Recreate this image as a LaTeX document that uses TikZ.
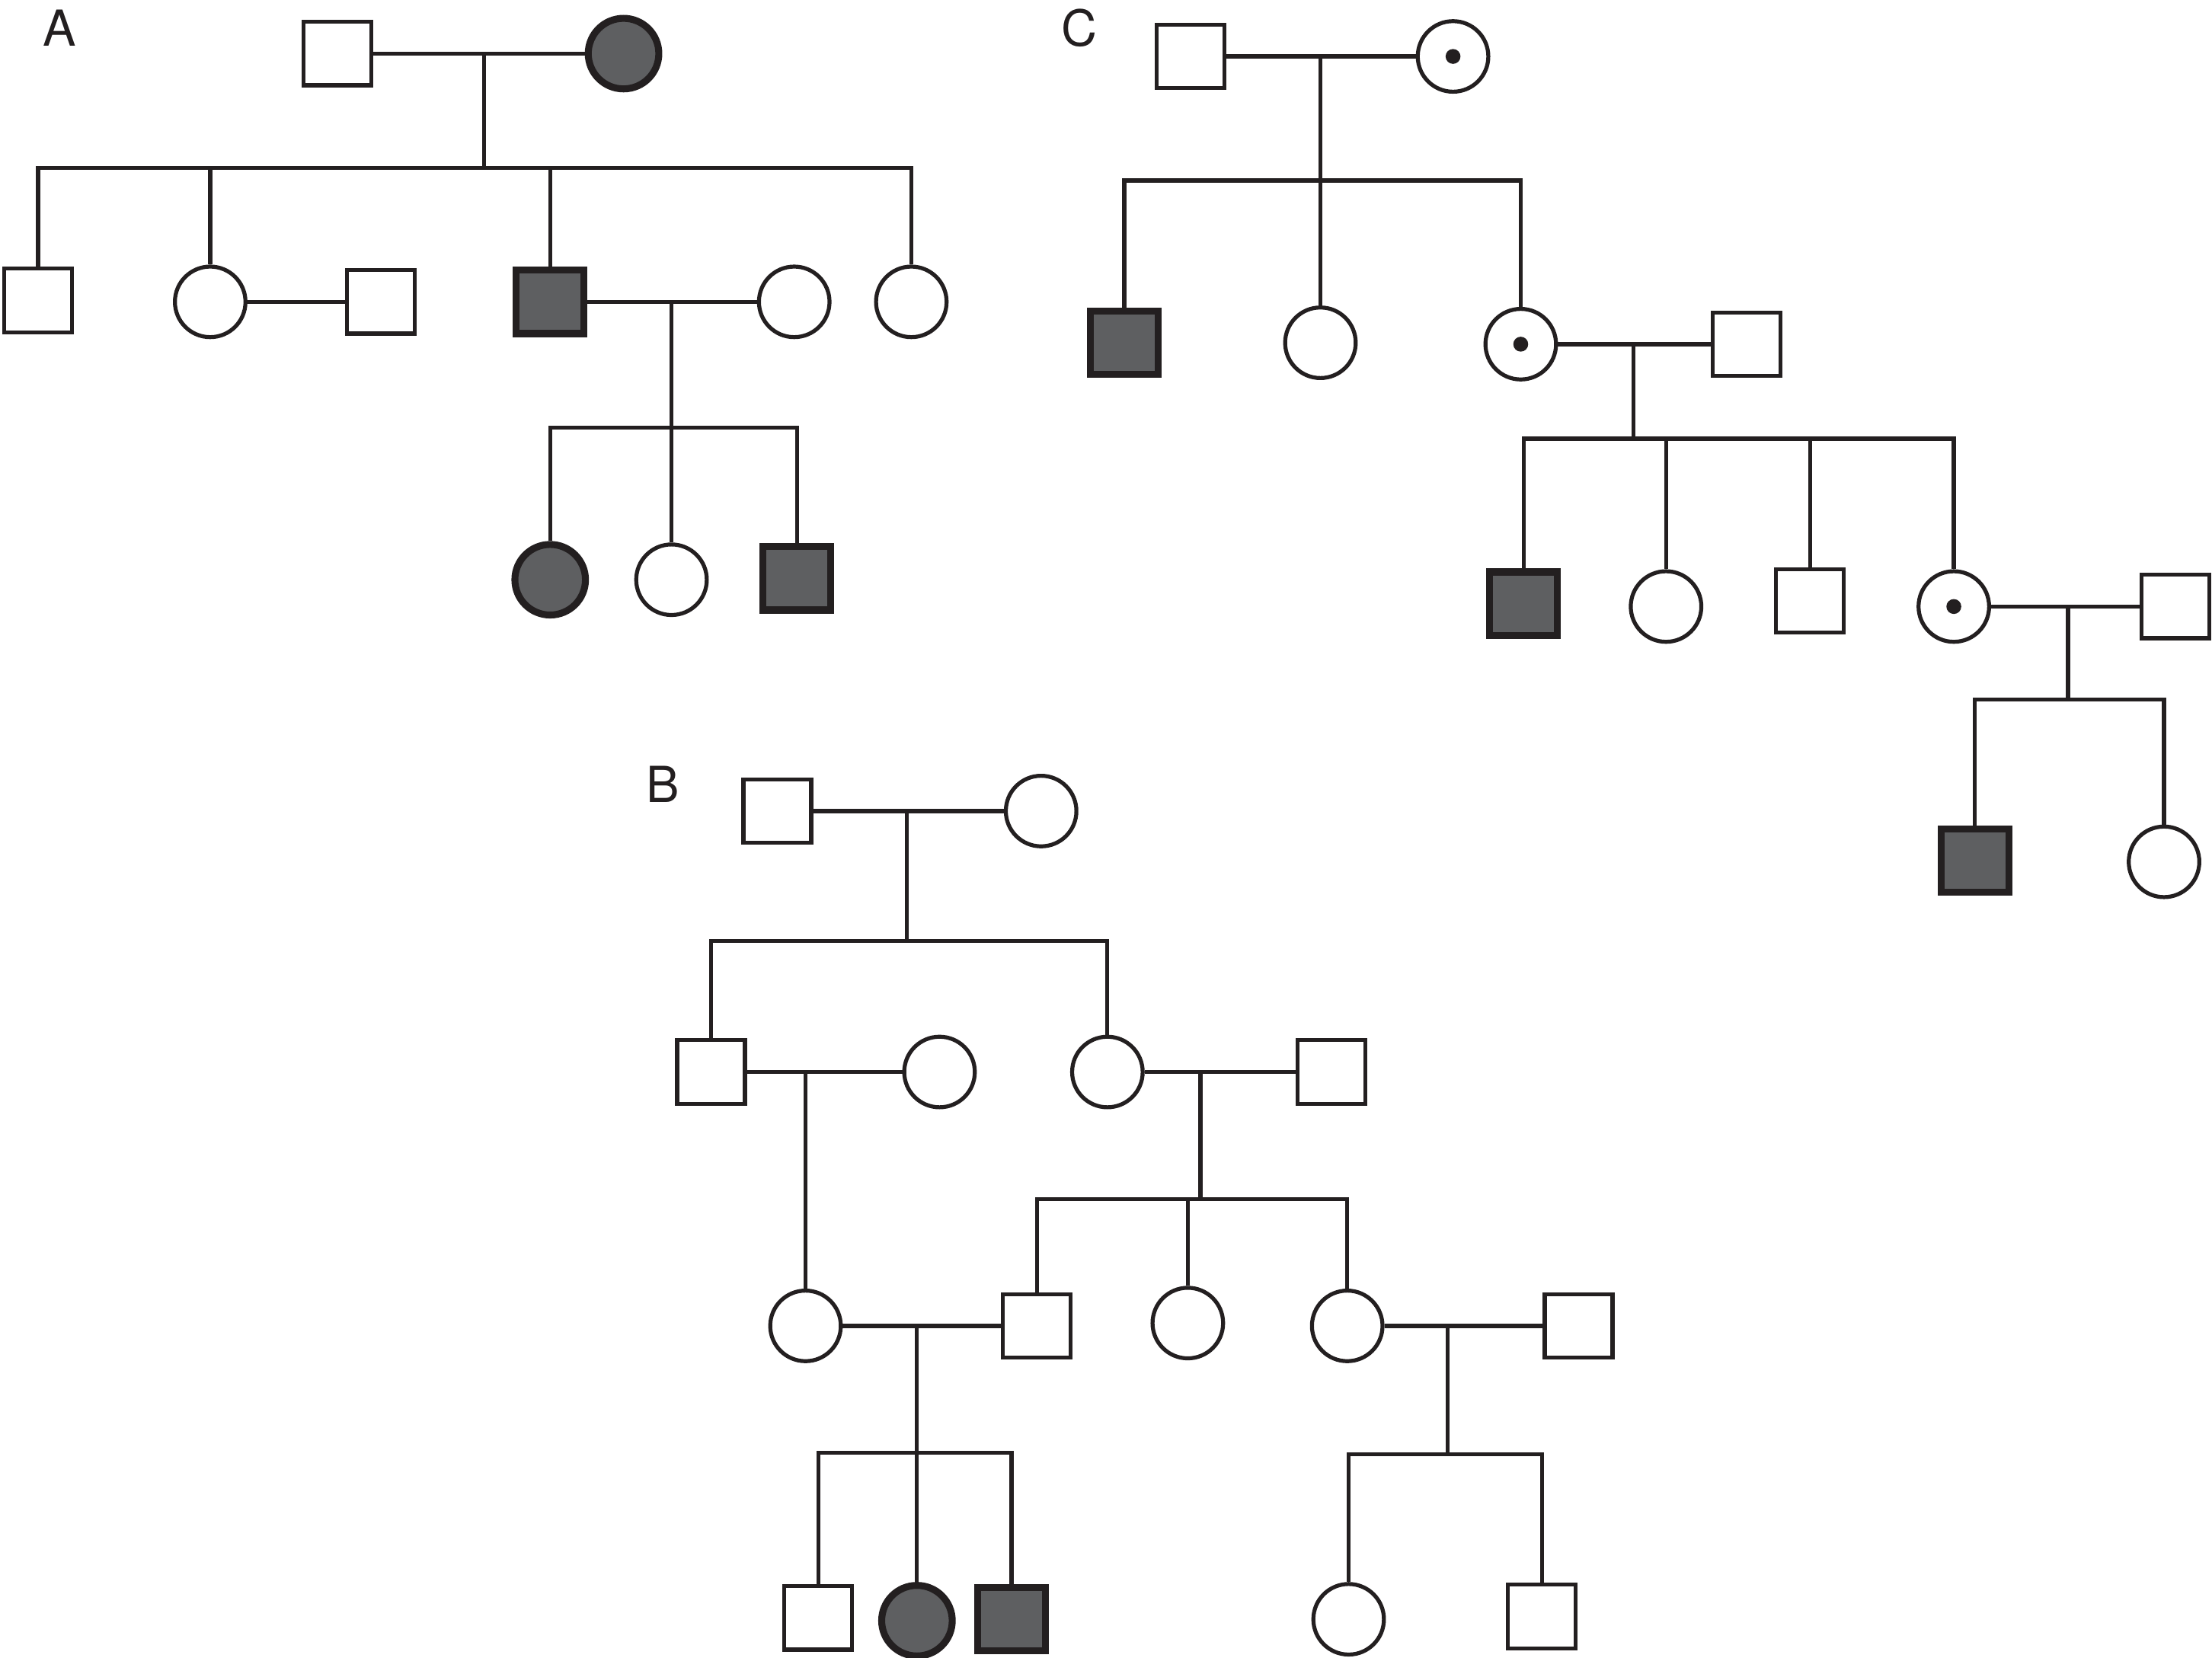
\documentclass[tikz,border=0pt]{standalone}
\usepackage{fontspec}
\setmainfont{TeX Gyre Heros}
\definecolor{ink}{HTML}{231F20}
\definecolor{shade}{HTML}{5E5F61}
\begin{document}
\begin{tikzpicture}[x=0.01cm, y=-0.01cm,
      male/.style={rectangle, draw=ink, line width=0.8pt, fill=white,
                   minimum width=0.48cm, minimum height=0.45cm, inner sep=0pt},
      female/.style={circle, draw=ink, line width=0.8pt, fill=white,
                     minimum size=0.5cm, inner sep=0pt},
      affected/.style={fill=shade, line width=1.4pt},
      carrier/.style={path picture={\fill[ink] (path picture bounding box.center) circle (1.5pt);}},
      line/.style={draw=ink, line width=0.8pt},
      panel/.style={font=\fontsize{10}{12}\selectfont, text=ink}
    ]
    \useasboundingbox (0,0) rectangle (1568,1175);

    % pedigree A
    \node[panel] (labA) at (42,20) {A};
    \node[male]             (A1)  at (239,38)  {};
    \node[female, affected] (A2)  at (442,38)  {};
    \coordinate (mA1) at (343,38);
    \coordinate (dA1) at (343,119);
    \node[male]             (A3)  at (27,213)  {};
    \node[female]           (A4)  at (149,214) {};
    \node[male]             (A5)  at (270,214) {};
    \node[male, affected]   (A6)  at (390,214) {};
    \node[female]           (A7)  at (563,214) {};
    \node[female]           (A8)  at (646,214) {};
    \coordinate (mA2) at (476,214);
    \coordinate (dA2) at (476,303);
    \node[female, affected] (A9)  at (390,411) {};
    \node[female]           (A10) at (476,411) {};
    \node[male, affected]   (A11) at (565,410) {};
    \draw[line] (A1) -- (A2);
    \draw[line] (mA1) -- (dA1);
    \draw[line] (A3.north) |- (dA1);
    \draw[line] (A4.north) |- (dA1);
    \draw[line] (A6.north) |- (dA1);
    \draw[line] (A8.north) |- (dA1);
    \draw[line] (A4) -- (A5);
    \draw[line] (A6) -- (A7);
    \draw[line] (mA2) -- (dA2);
    \draw[line] (A9.north) |- (dA2);
    \draw[line] (A10.north) |- (dA2);
    \draw[line] (A11.north) |- (dA2);

    % pedigree C
    \node[panel] (labC) at (765,20) {C};
    \node[male]              (C1)  at (844,40)   {};
    \node[female, carrier]   (C2)  at (1030,40)  {};
    \coordinate (mC1) at (936,40);
    \coordinate (dC1) at (936,128);
    \node[male, affected]    (C3)  at (797,243)  {};
    \node[female]            (C4)  at (936,243)  {};
    \node[female, carrier]   (C5)  at (1078,244) {};
    \node[male]              (C6)  at (1238,244) {};
    \coordinate (mC2) at (1158,244);
    \coordinate (dC2) at (1158,311);
    \node[male, affected]    (C7)  at (1080,428) {};
    \node[female]            (C8)  at (1181,430) {};
    \node[male]              (C9)  at (1283,426) {};
    \node[female, carrier]   (C10) at (1385,430) {};
    \node[male]              (C11) at (1542,430) {};
    \coordinate (mC3) at (1466,430);
    \coordinate (dC3) at (1466,496);
    \node[male, affected]    (C12) at (1400,610) {};
    \node[female]            (C13) at (1534,611) {};
    \draw[line] (C1) -- (C2);
    \draw[line] (mC1) -- (dC1);
    \draw[line] (C3.north) |- (dC1);
    \draw[line] (C4.north) |- (dC1);
    \draw[line] (C5.north) |- (dC1);
    \draw[line] (C5) -- (C6);
    \draw[line] (mC2) -- (dC2);
    \draw[line] (C7.north) |- (dC2);
    \draw[line] (C8.north) |- (dC2);
    \draw[line] (C9.north) |- (dC2);
    \draw[line] (C10.north) |- (dC2);
    \draw[line] (C10) -- (C11);
    \draw[line] (mC3) -- (dC3);
    \draw[line] (C12.north) |- (dC3);
    \draw[line] (C13.north) |- (dC3);

    % pedigree B
    \node[panel] (labB) at (470,556) {B};
    \node[male]             (B1)  at (551,575)  {};
    \node[female]           (B2)  at (738,575)  {};
    \coordinate (mB1) at (643,575);
    \coordinate (dB1) at (643,667);
    \node[male]             (B3)  at (504,760)  {};
    \node[female]           (B4)  at (666,760)  {};
    \coordinate (mB2) at (571,760);
    \node[female]           (B6)  at (785,760)  {};
    \node[male]             (B7)  at (944,760)  {};
    \coordinate (mB3) at (851,760);
    \coordinate (dB3) at (851,850);
    \node[female]           (B5)  at (571,940)  {};
    \node[male]             (B8)  at (735,940)  {};
    \node[female]           (B9)  at (842,938)  {};
    \node[female]           (B10) at (955,940)  {};
    \node[male]             (B11) at (1119,940) {};
    \coordinate (mB4) at (650,940);
    \coordinate (dB4) at (650,1030);
    \coordinate (mB5) at (1026,940);
    \coordinate (dB5) at (1026,1031);
    \node[male]             (B12) at (580,1147) {};
    \node[female, affected] (B13) at (650,1149) {};
    \node[male, affected]   (B14) at (717,1148) {};
    \node[female]           (B15) at (956,1148) {};
    \node[male]             (B16) at (1093,1146) {};
    \draw[line] (B1) -- (B2);
    \draw[line] (mB1) -- (dB1);
    \draw[line] (B3.north) |- (dB1);
    \draw[line] (B6.north) |- (dB1);
    \draw[line] (B3) -- (B4);
    \draw[line] (mB2) -- (B5.north);
    \draw[line] (B6) -- (B7);
    \draw[line] (mB3) -- (dB3);
    \draw[line] (B8.north) |- (dB3);
    \draw[line] (B9.north) |- (dB3);
    \draw[line] (B10.north) |- (dB3);
    \draw[line] (B5) -- (B8);
    \draw[line] (mB4) -- (dB4);
    \draw[line] (B12.north) |- (dB4);
    \draw[line] (B13.north) |- (dB4);
    \draw[line] (B14.north) |- (dB4);
    \draw[line] (B10) -- (B11);
    \draw[line] (mB5) -- (dB5);
    \draw[line] (B15.north) |- (dB5);
    \draw[line] (B16.north) |- (dB5);
  \end{tikzpicture}
\end{document}
